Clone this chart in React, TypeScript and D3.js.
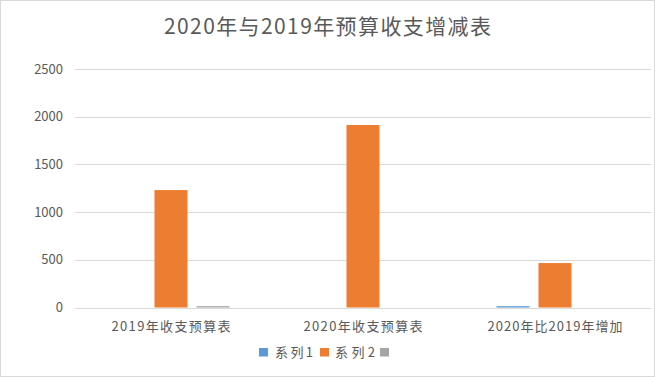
import React from "react";
import * as d3 from "d3";

const title = "2020年与2019年预算收支增减表";
const categories = ["2019年收支预算表", "2020年收支预算表", "2020年比2019年增加"];
const seriesNames = ["系列1", "系列2", ""];
const series1 = [0, 0, 14];
const series2 = [1231, 1913, 466];
const series3 = [14, 0, 0];
const yTicks = [0, 500, 1000, 1500, 2000, 2500];
const colors = ["#5B9BD5", "#ED7D31", "#A5A5A5"];

const W = 655;
const H = 377;
const FONT = "'Noto Sans CJK SC', 'Noto Sans', sans-serif";

export default function App() {
  const allSeries = [series1, series2, series3];
  const x0 = d3.scaleBand<string>().domain(categories).range([75, 651]).paddingInner(0).paddingOuter(0);
  const x1 = d3
    .scaleBand<number>()
    .domain([0, 1, 2])
    .range([0, 117])
    .paddingInner(9 / 42)
    .paddingOuter(0);
  const y = d3.scaleLinear().domain([0, 2500]).range([307.5, 69]);

  const legendItems = [
    { sx: 259, tx: 275, label: seriesNames[0], tl: 38 },
    { sx: 320, tx: 335, label: seriesNames[1], tl: 40 },
    { sx: 380, tx: 0, label: seriesNames[2], tl: 0 },
  ];

  return (
    <svg
      width={W}
      height={H}
      style={{ position: "fixed", left: 0, top: 0, background: "#fff" }}
      fontFamily={FONT}
    >
      <rect x={0.5} y={0.5} width={W - 1} height={H - 1} fill="#fff" stroke="#D9D9D9" />
      <text x={164} y={34} fontSize={21} fill="#595959" textLength={327} lengthAdjust="spacing">
        {title}
      </text>
      {yTicks.map((t) => (
        <g key={t}>
          <line x1={75} x2={651} y1={Math.round(y(t)) + 0.5} y2={Math.round(y(t)) + 0.5} stroke="#D9D9D9" strokeWidth={1} />
          <text x={63} y={y(t)} dy="0.35em" textAnchor="end" fontSize={13} fill="#595959">
            {t}
          </text>
        </g>
      ))}
      {categories.map((c, ci) => {
        const center = (x0(c) as number) + x0.bandwidth() / 2;
        const start = center - 58.5;
        return (
          <g key={c}>
            {allSeries.map((s, si) => {
              const v = s[ci];
              if (!v) return null;
              return (
                <rect
                  key={si}
                  x={start + (x1(si) as number)}
                  width={x1.bandwidth()}
                  y={y(v)}
                  height={y(0) - y(v)}
                  fill={colors[si]}
                />
              );
            })}
          </g>
        );
      })}
      {categories.map((c, ci) => {
        const center = (x0(c) as number) + x0.bandwidth() / 2;
        const lens = [119, 119, 135];
        return (
          <text
            key={c}
            x={center - lens[ci] / 2}
            y={330.5}
            fontSize={13}
            fill="#595959"
            textLength={lens[ci]}
            lengthAdjust="spacing"
          >
            {c}
          </text>
        );
      })}
      {legendItems.map((it, i) => (
        <g key={i}>
          <rect x={it.sx} y={348} width={9} height={8.5} fill={colors[i]} />
          {it.label ? (
            <text x={it.tx} y={357} fontSize={13} fill="#595959" textLength={it.tl} lengthAdjust="spacing">
              {it.label}
            </text>
          ) : null}
        </g>
      ))}
    </svg>
  );
}
